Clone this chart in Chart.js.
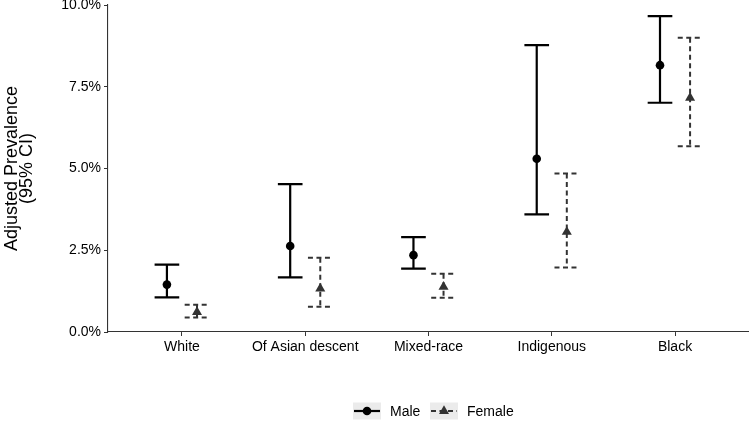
<!DOCTYPE html>
<html>
<head>
<meta charset="utf-8">
<script src="https://cdn.jsdelivr.net/npm/chart.js@4"></script>
<style>
  html, body { margin: 0; padding: 0; background: #fff; }
  #wrap { width: 749px; height: 432px; position: relative; }
</style>
</head>
<body>
<div id="wrap"><canvas id="c"></canvas></div>
<script>
const categories = ['White', 'Of Asian descent', 'Mixed-race', 'Indigenous', 'Black'];
const maleEst  = [1.45, 2.63, 2.35, 5.30, 8.16];
const maleLow  = [1.06, 1.67, 1.94, 3.60, 7.01];
const maleHigh = [2.06, 4.52, 2.90, 8.77, 9.66];
const femaleEst  = [0.61, 1.33, 1.38, 3.06, 7.16];
const femaleLow  = [0.44, 0.77, 1.05, 1.97, 5.68];
const femaleHigh = [0.83, 2.27, 1.78, 4.85, 9.00];
const yTicks = [0, 2.5, 5, 7.5, 10];

const FONT = '"Liberation Sans", Arial, Helvetica, sans-serif';
const DODGE = 0.122;
const CAP_HALF = 0.1;

function build(est, lo, hi, shift) {
  return est.map((v, i) => ({ x: i + 1 + shift, y: v, lo: lo[i], hi: hi[i] }));
}

const errorBars = {
  id: 'errorBars',
  beforeDatasetsDraw(chart) {
    const { ctx, scales: { x, y } } = chart;
    chart.data.datasets.forEach(ds => {
      ctx.save();
      ctx.strokeStyle = ds.barColor;
      ctx.lineWidth = ds.barWidth;
      ctx.setLineDash(ds.barDash);
      ctx.lineCap = 'butt';
      ds.data.forEach(p => {
        const px = x.getPixelForValue(p.x);
        const l = x.getPixelForValue(p.x - CAP_HALF);
        const r = x.getPixelForValue(p.x + CAP_HALF);
        const yl = y.getPixelForValue(p.lo);
        const yh = y.getPixelForValue(p.hi);
        ctx.beginPath();
        ctx.moveTo(px, yh); ctx.lineTo(px, yl);
        ctx.moveTo(l, yh); ctx.lineTo(r, yh);
        ctx.moveTo(l, yl); ctx.lineTo(r, yl);
        ctx.stroke();
      });
      ctx.restore();
    });
  }
};

const customLegend = {
  id: 'customLegend',
  afterDraw(chart) {
    const { ctx } = chart;
    const cy = 411;
    const items = [
      { ds: chart.data.datasets[0], kx: 353, label: 'Male' },
      { ds: chart.data.datasets[1], kx: 430, label: 'Female' }
    ];
    ctx.save();
    items.forEach(it => {
      const kw = 28, kh = 17;
      ctx.fillStyle = '#ebebeb';
      ctx.fillRect(it.kx, cy - kh / 2, kw, kh);
      ctx.strokeStyle = it.ds.barColor;
      ctx.lineWidth = it.ds.barWidth;
      ctx.setLineDash(it.ds.barDash);
      ctx.beginPath();
      ctx.moveTo(it.kx + 1, cy); ctx.lineTo(it.kx + kw - 1, cy);
      ctx.stroke();
      ctx.setLineDash([]);
      ctx.fillStyle = it.ds.pointBackgroundColor;
      const mx = it.kx + kw / 2;
      if (it.ds.pointStyle === 'circle') {
        ctx.beginPath();
        ctx.arc(mx, cy, it.ds.pointRadius, 0, Math.PI * 2);
        ctx.fill();
      } else {
        const r = it.ds.pointRadius;
        ctx.beginPath();
        ctx.moveTo(mx, cy - r);
        ctx.lineTo(mx + r * Math.sin(2 * Math.PI / 3), cy - r * Math.cos(2 * Math.PI / 3));
        ctx.lineTo(mx + r * Math.sin(4 * Math.PI / 3), cy - r * Math.cos(4 * Math.PI / 3));
        ctx.closePath();
        ctx.fill();
      }
      ctx.fillStyle = '#000';
      ctx.font = '14px ' + FONT;
      ctx.textBaseline = 'middle';
      ctx.textAlign = 'left';
      ctx.fillText(it.label, it.kx + kw + 9, cy + 1);
    });
    ctx.restore();
  }
};

new Chart(document.getElementById('c'), {
  type: 'scatter',
  data: {
    datasets: [
      {
        label: 'Male',
        data: build(maleEst, maleLow, maleHigh, -DODGE),
        pointStyle: 'circle',
        pointRadius: 4.3,
        pointBackgroundColor: '#000',
        pointBorderColor: '#000',
        pointBorderWidth: 0,
        barColor: '#000',
        barWidth: 2.2,
        barDash: []
      },
      {
        label: 'Female',
        data: build(femaleEst, femaleLow, femaleHigh, DODGE),
        pointStyle: 'triangle',
        pointRadius: 5.8,
        pointBackgroundColor: '#333',
        pointBorderColor: '#333',
        pointBorderWidth: 0,
        barColor: '#333',
        barWidth: 2,
        barDash: [5, 3.5]
      }
    ]
  },
  options: {
    responsive: true,
    maintainAspectRatio: false,
    animation: false,
    layout: { autoPadding: false, padding: { top: 5, right: 0, bottom: 0, left: 0 } },
    plugins: { legend: { display: false }, tooltip: { enabled: false } },
    scales: {
      x: {
        type: 'linear',
        min: 0.4,
        max: 5.6,
        afterBuildTicks(scale) { scale.ticks = categories.map((c, i) => ({ value: i + 1 })); },
        afterFit(scale) { scale.height = 100; scale.paddingLeft = 0; scale.paddingRight = 0; },
        ticks: {
          autoSkip: false,
          maxRotation: 0,
          padding: 3,
          color: '#000',
          font: { family: FONT, size: 14 },
          callback: (v) => categories[Math.round(v) - 1]
        },
        grid: { display: true, drawOnChartArea: false, drawTicks: true, tickLength: 4, tickColor: '#333', tickWidth: 1 },
        border: { display: true, color: '#333', width: 1.1 }
      },
      y: {
        min: 0,
        max: 10,
        afterBuildTicks(scale) { scale.ticks = yTicks.map(v => ({ value: v })); },
        afterFit(scale) { scale.width = 108; scale.paddingTop = 0; scale.paddingBottom = 0; },
        ticks: {
          padding: 3,
          color: '#000',
          font: { family: FONT, size: 14 },
          callback: (v) => v.toFixed(1) + '%'
        },
        title: {
          display: true,
          text: ['Adjusted Prevalence', '(95% CI)'],
          color: '#000',
          font: { family: FONT, size: 18, lineHeight: 0.85 },
          padding: { top: 4, bottom: 0 }
        },
        grid: { display: true, drawOnChartArea: false, drawTicks: true, tickLength: 4, tickColor: '#333', tickWidth: 1 },
        border: { display: true, color: '#333', width: 1.1 }
      }
    }
  },
  plugins: [errorBars, customLegend]
});
</script>
</body>
</html>
